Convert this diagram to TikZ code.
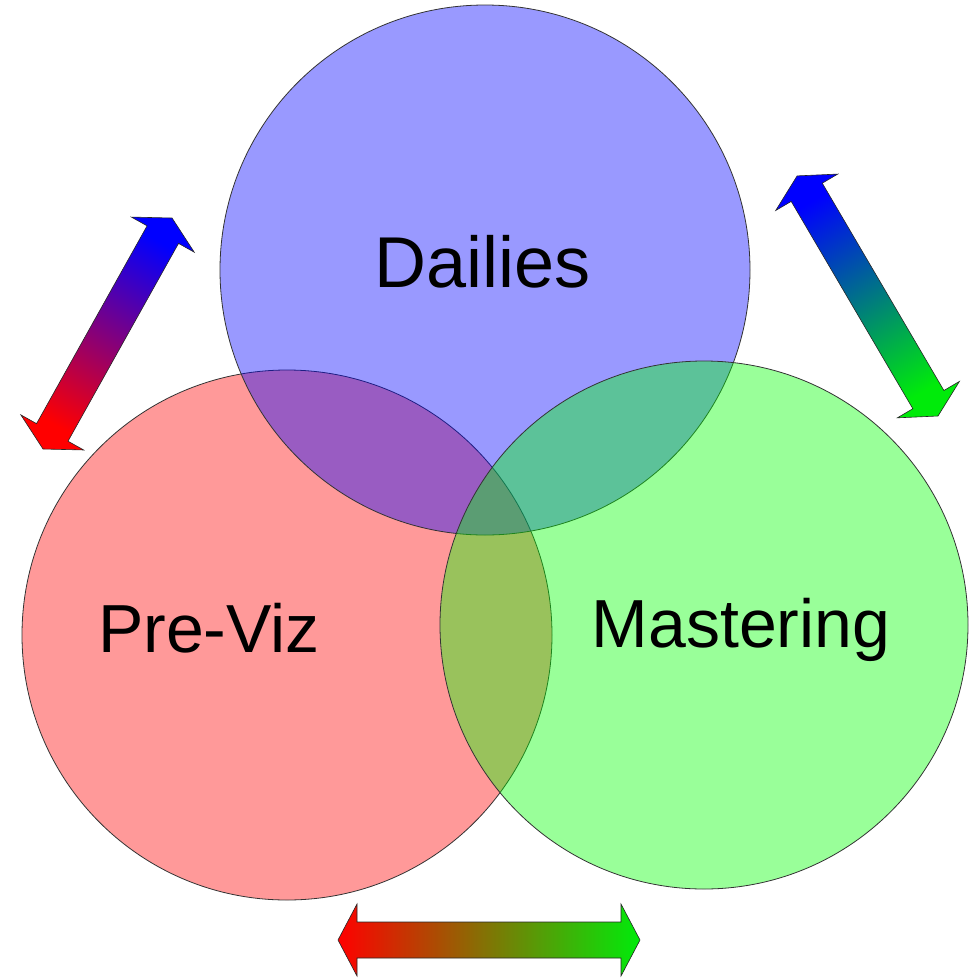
\documentclass[tikz,border=0pt]{standalone}
\usepackage{fontspec}
\setmainfont{Liberation Sans}
\definecolor{arrgreen}{RGB}{0,235,10}
\pgfdeclarehorizontalshading{redblue}{100bp}{color(0bp)=(red); color(25bp)=(red); color(75bp)=(blue); color(100bp)=(blue)}
\pgfdeclarehorizontalshading{bluegreen}{100bp}{color(0bp)=(blue); color(25bp)=(blue); color(75bp)=(arrgreen); color(100bp)=(arrgreen)}
\pgfdeclarehorizontalshading{redgreen}{100bp}{color(0bp)=(red); color(25bp)=(red); color(75bp)=(arrgreen); color(100bp)=(arrgreen)}
\tikzset{
  venn/.style={draw=black!80, line width=0.8pt, fill opacity=0.4},
  label/.style={text=black, inner sep=0pt, anchor=base},
  blockarrow/.style={draw=black!85, line width=0.6pt},
}
\newcommand{\dblarrow}[3]{% length, head length, options
  \shade[blockarrow,#3] (0,0) -- (19,-36) -- (19,-18) -- (#1-19,-18) -- (#1-19,-36) -- (#1,0)
    -- (#1-19,36) -- (#1-19,18) -- (19,18) -- (19,36) -- cycle;}
\begin{document}
\begin{tikzpicture}[x=1pt,y=-1pt]
\useasboundingbox (0,0) rectangle (970,978);
% circles: red, then blue, then green
\path[venn, fill=red]   (287,635) circle (265);
\path[venn, fill=blue]  (485,270) circle (265);
\path[venn, fill=green] (704,625) circle (264);
% labels
\node[label, font=\fontsize{72}{80}\selectfont] (dailies) at (483,287) {Dailies};
\node[label, font=\fontsize{68}{76}\selectfont] (previz) at (209,652) {Pre-Viz};
\node[label, font=\fontsize{68}{76}\selectfont] (mastering) at (741,647) {Mastering};
% arrows
\coordinate (la) at (43,449);
\coordinate (ra) at (938,416);
\coordinate (ba) at (338,940);
\begin{scope}[shift={(la)}, rotate=60.8]
  \dblarrow{264.6}{19}{shading=redblue, shading angle=60.8}
\end{scope}
\begin{scope}[shift={(ra)}, rotate=120.4]
  \dblarrow{278.4}{19}{shading=bluegreen, shading angle=-59.6}
\end{scope}
\begin{scope}[shift={(ba)}]
  \dblarrow{302}{19}{shading=redgreen, shading angle=0}
\end{scope}
\end{tikzpicture}
\end{document}
